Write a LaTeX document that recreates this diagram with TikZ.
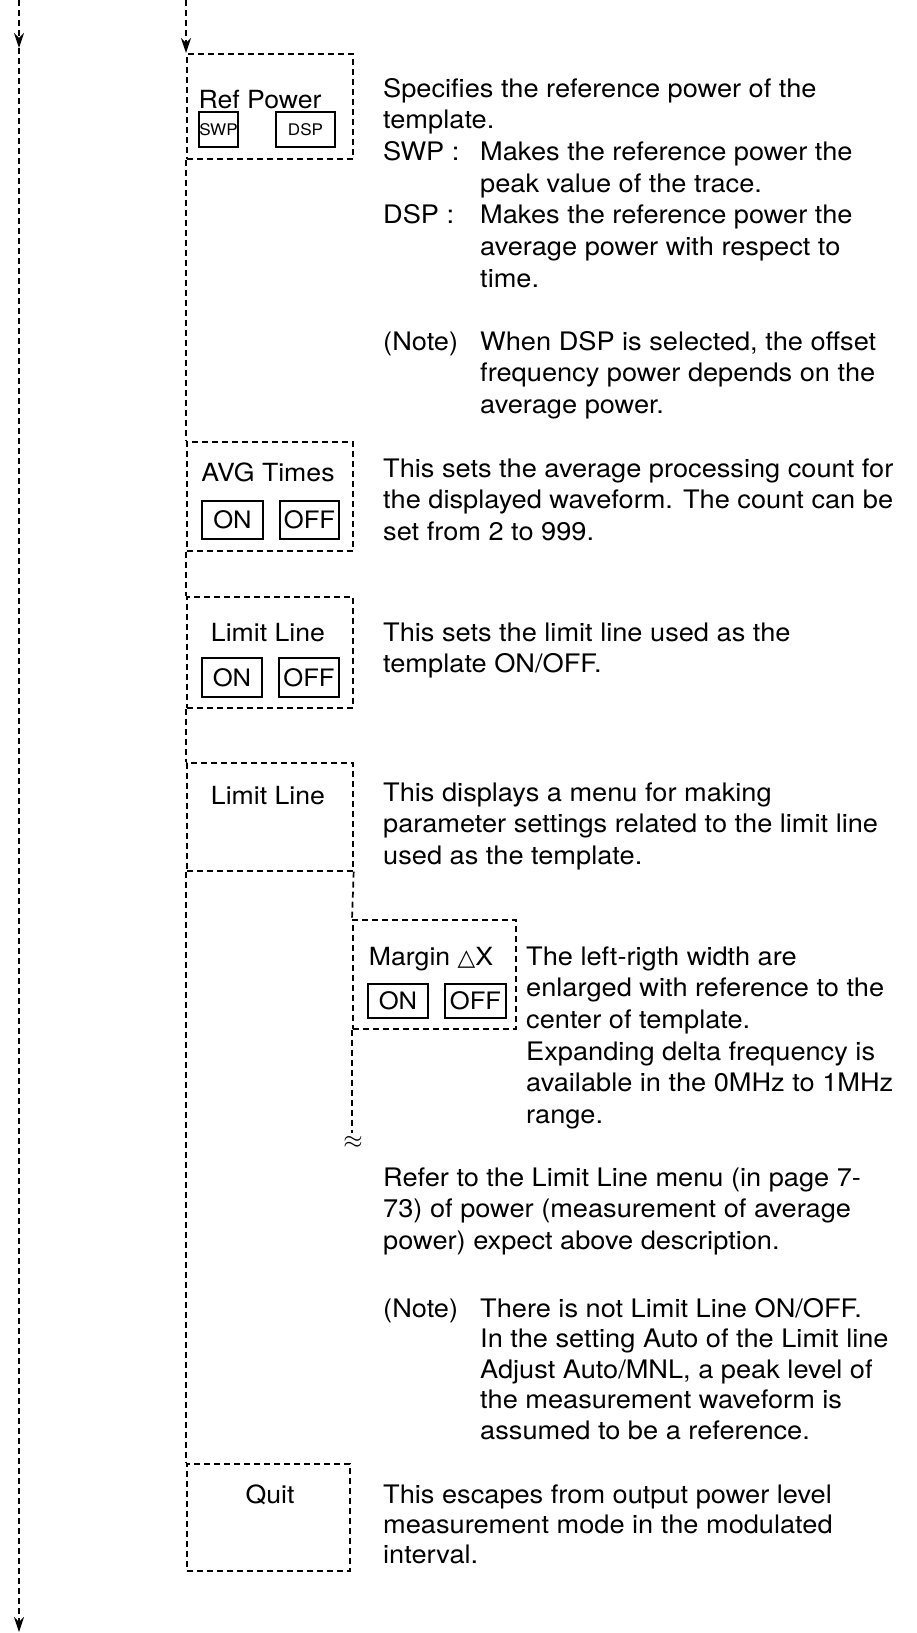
\documentclass[tikz,border=0pt]{standalone}
\usepackage{fontspec}
\setmainfont{TeX Gyre Heros}[FakeStretch=1.066]
\newfontfamily\dejavu{DejaVu Sans}
\usetikzlibrary{arrows.meta}
\tikzset{
  dline/.style={line width=1.7pt, dash pattern=on 6pt off 4pt},
  dbox/.style={draw, line width=1.7pt, dash pattern=on 6pt off 4pt, rectangle, inner sep=0pt, anchor=north west},
  keybox/.style={draw, line width=1.8pt, rectangle, inner sep=0pt, font=\fontsize{24}{24}\selectfont},
  smallkey/.style={keybox, font=\fontsize{16}{16}\selectfont},
  lbl/.style={anchor=base, inner sep=0pt, font=\fontsize{25}{25}\selectfont},
  txt/.style={anchor=base west, inner sep=0pt, font=\fontsize{25.5}{25.5}\selectfont},
  arr/.style={-{Stealth[length=15pt,width=10pt,inset=5pt]}},
}
\begin{document}
\begin{tikzpicture}[x=1pt,y=-1pt]
\useasboundingbox (0,0) rectangle (916,1633);

% ---- left free-standing line ----
\coordinate (l0) at (19,0);
\coordinate (l1) at (19,48);
\coordinate (l2) at (19,1632);
\draw[dline,arr] (l0) -- (l1);
\draw[dline,arr] (l1) -- (l2);

% ---- boxes ----
\node[dbox, minimum width=166pt, minimum height=105pt] (rp) at (186,53) {};
\node[dbox, minimum width=166pt, minimum height=109pt] (avg) at (186,441) {};
\node[dbox, minimum width=166pt, minimum height=111pt] (ll1) at (186,596) {};
\node[dbox, minimum width=166pt, minimum height=108pt] (ll2) at (186,762) {};
\node[dbox, minimum width=163pt, minimum height=109pt] (mg) at (352,919) {};
\node[dbox, minimum width=163pt, minimum height=107pt] (qt) at (186,1463) {};

% ---- main line connectors ----
\coordinate (t2) at (186,0);
\draw[dline,arr] (t2) -- (rp.north west);
\draw[dline] (rp.south west) -- (avg.north west);
\draw[dline] (avg.south west) -- (ll1.north west);
\draw[dline] (ll1.south west) -- (ll2.north west);
\draw[dline] (ll2.south west) -- (qt.north west);

% ---- sub line ----
\coordinate (se) at (352,1133);
\draw[dline] (ll2.south east) -- (mg.north west);
\draw[dline] (mg.south west) -- (se);
\node[inner sep=0pt, font=\fontsize{25}{25}\selectfont] (wave) at (353,1142) {$\approx$};

% ---- box labels ----
\node[lbl] (rpl) at (260,108) {Ref Power};
\node[smallkey, minimum width=39pt, minimum height=35pt] (swp) at (218.5,129.5) {SWP};
\node[smallkey, minimum width=59pt, minimum height=35pt] (dsp) at (305.5,129.5) {DSP};

\node[lbl] (avgl) at (268,481) {AVG Times};
\node[keybox, minimum width=61pt, minimum height=38pt] (avgon) at (232.5,520) {ON};
\node[keybox, minimum width=59pt, minimum height=38pt] (avgoff) at (309.5,520) {OFF};

\node[lbl] (ll1l) at (268,641) {Limit Line};
\node[keybox, minimum width=60pt, minimum height=39pt] (ll1on) at (232,677.5) {ON};
\node[keybox, minimum width=60pt, minimum height=39pt] (ll1off) at (309,677.5) {OFF};

\node[lbl] (ll2l) at (268,804) {Limit Line};

\node[lbl] (mgl) at (431,965) {Margin\ {\dejavu\fontsize{23}{23}\selectfont △}X};
\node[keybox, minimum width=60pt, minimum height=34pt] (mgon) at (398,1001) {ON};
\node[keybox, minimum width=61pt, minimum height=34pt] (mgoff) at (475.5,1001) {OFF};

\node[lbl] (qtl) at (270,1503) {Quit};

% ---- descriptions ----
\node[txt] (a1) at (383,97) {Specifies the reference power of the};
\node[txt] (a2) at (383,128.7) {template.};
\node[txt] (a3) at (383,160.4) {SWP :};
\node[txt] (a4) at (480,160.4) {Makes the reference power the};
\node[txt] (a5) at (480,192) {peak value of the trace.};
\node[txt] (a6) at (383,223.8) {DSP :};
\node[txt] (a7) at (480,223.8) {Makes the reference power the};
\node[txt] (a8) at (480,255.5) {average power with respect to};
\node[txt] (a9) at (480,287) {time.};
\node[txt] (a10) at (383,350) {(Note)};
\node[txt] (a11) at (480,350) {When DSP is selected, the offset};
\node[txt] (a12) at (480,381.7) {frequency power depends on the};
\node[txt] (a13) at (480,413.4) {average power.};

\node[txt] (b1) at (383,477) {This sets the average processing count for};
\node[txt] (b2) at (383,508.7) {the displayed waveform. The count can be};
\node[txt] (b3) at (383,540.4) {set from 2 to 999.};

\node[txt] (c1) at (383,641) {This sets the limit line used as the};
\node[txt] (c2) at (383,672.7) {template ON/OFF.};

\node[txt] (d1) at (383,801) {This displays a menu for making};
\node[txt] (d2) at (383,832.7) {parameter settings related to the limit line};
\node[txt] (d3) at (383,864.4) {used as the template.};

\node[txt] (e1) at (526,965) {The left-rigth width are};
\node[txt] (e2) at (526,996.7) {enlarged with reference to the};
\node[txt] (e3) at (526,1028.4) {center of template.};
\node[txt] (e4) at (526,1060) {Expanding delta frequency is};
\node[txt] (e5) at (526,1091.8) {available in the 0MHz to 1MHz};
\node[txt] (e6) at (526,1123.5) {range.};

\node[txt] (f1) at (383,1186) {Refer to the Limit Line menu (in page 7-};
\node[txt] (f2) at (383,1217.7) {73) of power (measurement of average};
\node[txt] (f3) at (383,1249.4) {power) expect above description.};

\node[txt] (g1) at (383,1317) {(Note)};
\node[txt] (g2) at (480,1317) {There is not Limit Line ON/OFF.};
\node[txt] (g3) at (480,1347.5) {In the setting Auto of the Limit line};
\node[txt] (g4) at (480,1378) {Adjust Auto/MNL, a peak level of};
\node[txt] (g5) at (480,1408.5) {the measurement waveform is};
\node[txt] (g6) at (480,1439) {assumed to be a reference.};

\node[txt] (h1) at (383,1503) {This escapes from output power level};
\node[txt] (h2) at (383,1533) {measurement mode in the modulated};
\node[txt] (h3) at (383,1563) {interval.};
\end{tikzpicture}
\end{document}
